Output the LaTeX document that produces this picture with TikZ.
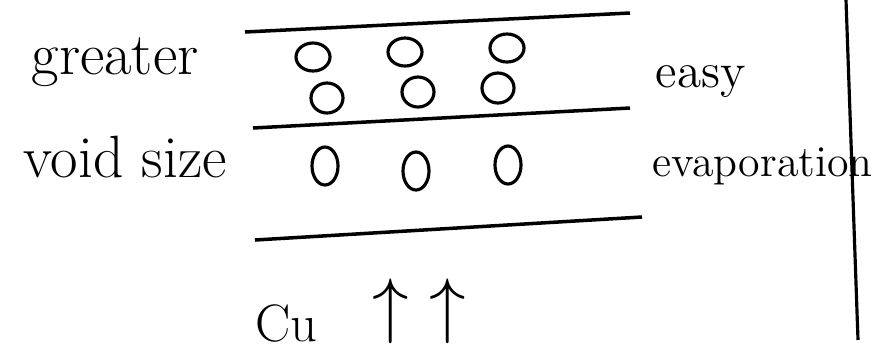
\documentclass[tikz,border=0pt]{standalone}
\usepackage{amsmath,amssymb}
\usepackage{tikz}
\usetikzlibrary{positioning}

\tikzset{
	note/.style={font=\fontsize{15}{18}\selectfont, inner sep=0pt},
	bignote/.style={note, font=\fontsize{17}{20}\selectfont},
	sidenote/.style={font=\fontsize{13}{15}\selectfont, inner sep=0pt, anchor=west},
	layer/.style={line width=1pt},
	void/.style={line width=0.9pt}
}

\begin{document}
\begin{tikzpicture}
	\useasboundingbox (0,0) rectangle (8.72,3.54);
	% film layers
	\draw[layer] (2.45,3.22) -- (6.30,3.41);
	\draw[layer] (2.53,2.26) -- (6.30,2.46);
	\draw[layer] (2.55,1.14) -- (6.42,1.37);
	% voids
	\foreach \x/\y in {3.13/2.97, 4.05/3.02, 5.07/3.06}
		\draw[void] (\x,\y) ellipse [x radius=0.17, y radius=0.14];
	\foreach \x/\y in {3.27/2.56, 4.18/2.62, 4.98/2.66}
		\draw[void] (\x,\y) ellipse [x radius=0.16, y radius=0.15];
	\foreach \x/\y in {3.25/1.88, 4.16/1.83, 5.08/1.89}
		\draw[void] (\x,\y) ellipse [x radius=0.13, y radius=0.19];
	% labels
	\node[bignote] (greater) at (1.15,2.92) {greater};
	\node[bignote] (voidsize) at (1.25,1.97) {void size};
	\node[sidenote, font=\fontsize{14}{16}\selectfont] (easy) at (6.55,2.72) {easy};
	\node[sidenote, font=\fontsize{12.5}{15}\selectfont] (evap) at (6.52,1.88) {evaporation};
	\node[note, anchor=base west] (cu) at (2.55,0.13) {Cu\hspace{0.55cm}\raisebox{0.12cm}{\fontsize{20}{22}\selectfont$\uparrow\hspace{0.2cm}\uparrow$}};
	% margin line
	\draw[line width=0.9pt] (8.46,3.54) -- (8.58,0.14);
\end{tikzpicture}
\end{document}
